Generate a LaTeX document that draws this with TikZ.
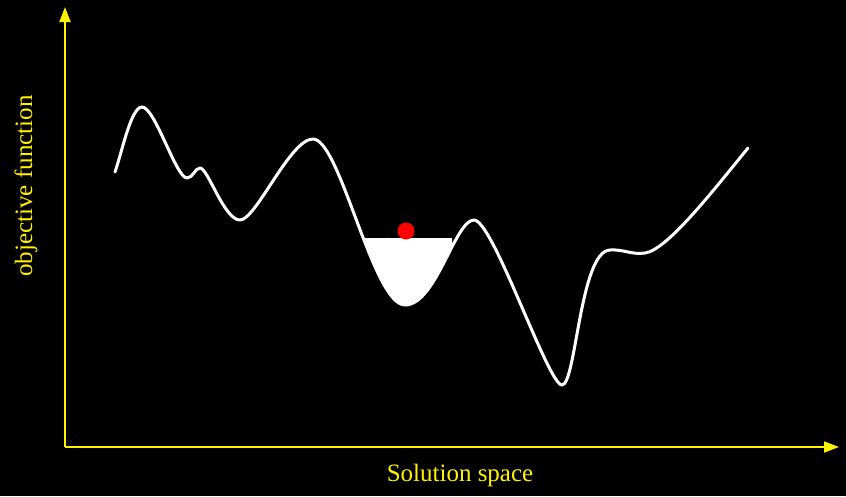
\documentclass[tikz,border=0pt]{standalone}
\usepackage{fontspec}
\setmainfont{Liberation Serif}
\usetikzlibrary{arrows.meta}
\tikzset{
  axis/.style={draw=yellow, line width=1.8pt, -{Triangle[length=15pt,width=11pt]}},
  axlabel/.style={text=yellow, font=\fontsize{25}{30}\selectfont, inner sep=0pt},
  landscape/.style={draw=white, line width=3pt, line join=round, line cap=round},
}
\def\curvepath{(115,172) .. controls (122,152) and (131,107) .. (142,107)
  .. controls (155,107) and (176,178) .. (187,178)
  .. controls (193,178) and (195,168) .. (200,168)
  .. controls (208,168) and (224,220) .. (240,220)
  .. controls (256,220) and (290,139) .. (313,139)
  .. controls (340,139) and (373,305) .. (405,305)
  .. controls (436,305) and (455,220) .. (474,220)
  .. controls (493,220) and (548,385) .. (562,385)
  .. controls (576,385) and (580,251) .. (610,250)
  .. controls (623,249) and (632,255) .. (645,253)
  .. controls (667,250) and (712,192) .. (748,148)}
\begin{document}
\begin{tikzpicture}[x=1pt,y=-1pt]
\fill[black] (0,0) rectangle (846,496);
\useasboundingbox (0,0) rectangle (846,496);
\coordinate (O) at (65,447);
\coordinate (Ytip) at (65,7);
\coordinate (Xtip) at (839,447);
\draw[axis] (O) -- (Ytip);
\draw[axis] (O) -- (Xtip);
\node[axlabel, anchor=base] (xl) at (460,481) {Solution space};
\node[axlabel, rotate=90, anchor=base] (yl) at (32,186) {objective function};
\begin{scope}
  \clip (363,238) rectangle (452,400);
  \fill[white] \curvepath -- (748,0) -- (115,0) -- cycle;
\end{scope}
\draw[landscape] \curvepath;
\fill[red] (406,231) circle (8.5);
\end{tikzpicture}
\end{document}
